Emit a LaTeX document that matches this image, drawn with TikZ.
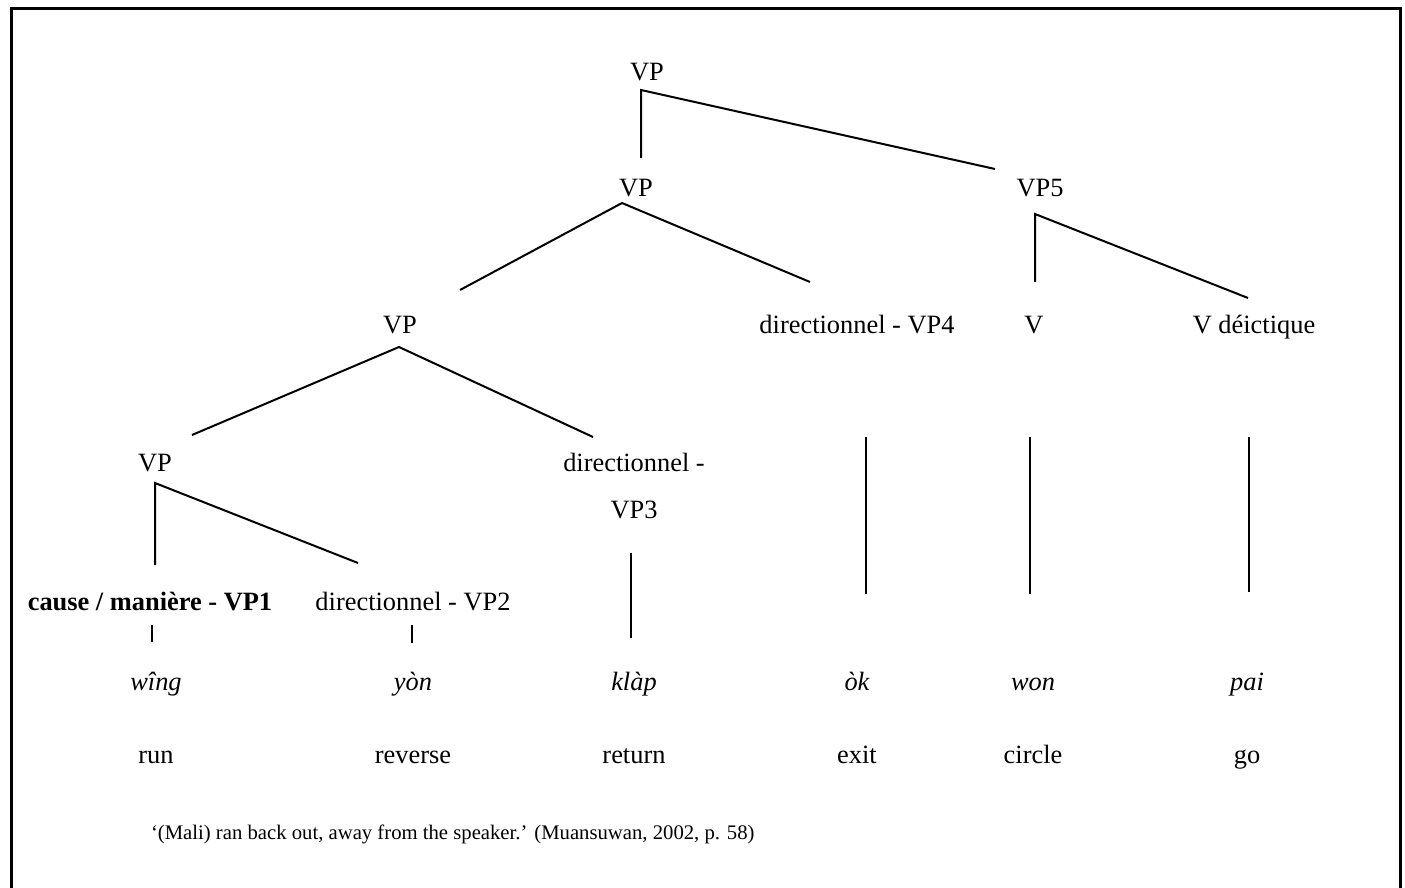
\documentclass[tikz,border=0pt]{standalone}
\usepackage{fontspec}
\setmainfont{Liberation Serif}

\tikzstyle{treefig}=[x=0.5pt,y=-0.5pt,line width=1pt]
\tikzstyle{lbl}=[anchor=base,inner sep=0pt,font=\fontsize{13.2}{15}\selectfont]
\tikzstyle{word}=[lbl,font=\fontsize{13.2}{15}\selectfont\itshape]
\tikzstyle{caption}=[anchor=base west,inner sep=0pt,font=\fontsize{10.35}{12}\selectfont]

\begin{document}
\begin{tikzpicture}[style=treefig]
\useasboundingbox (0,0) rectangle (1405,888);
\draw[line width=1.5pt] (11,9) rectangle (1400,900);

% tree labels
\node[lbl] (vp0) at (647,81) {VP};
\node[lbl] (vp1) at (636,197) {VP};
\node[lbl] (vp5) at (1040,197) {VP5};
\node[lbl] (vp2) at (400,334) {VP};
\node[lbl] (vp4) at (857,334) {directionnel - VP4};
\node[lbl] (v) at (1034,334) {V};
\node[lbl] (vd) at (1254,334) {V déictique};
\node[lbl] (vp) at (155,471) {VP};
\node[lbl] (vp3a) at (634,471) {directionnel -};
\node[lbl] (vp3b) at (634,518) {VP3};
\node[lbl,font=\fontsize{13.2}{15}\selectfont\bfseries] (vp1x) at (150,610) {cause / manière - VP1};
\node[lbl] (vp2x) at (413,610) {directionnel - VP2};

% thai words and glosses
\foreach \x/\w/\g [count=\i] in {156/wîng/run,413/yòn/reverse,634/klàp/return,857/òk/exit,1033/won/circle,1247/pai/go}{%
    \node[word] (w\i) at (\x,690) {\w};
    \node[lbl] (g\i) at (\x,763) {\g};
}

% branch points and line ends
\foreach \n/\x/\y in {a/641/90,a1/641/158,a2/995/169,%
    b/622/203,b1/460/290,b2/810/282,%
    c/1035/214,c1/1035/282,c2/1248/298,%
    d/399/347,d1/192/435,d2/593/437,%
    e/155/483,e1/155/565,e2/358/563,%
    f1/152/625,f2/152/642,g1/412/625,g2/412/643,%
    h1/631/553,h2/631/638,k1/866/437,k2/866/594,%
    m1/1030/437,m2/1030/594,n1/1249/437,n2/1249/592}{%
    \coordinate (\n) at (\x,\y);
}

\draw (a1) -- (a) -- (a2);
\draw (b1) -- (b) -- (b2);
\draw (c1) -- (c) -- (c2);
\draw (d1) -- (d) -- (d2);
\draw (e1) -- (e) -- (e2);
\foreach \s in {f,g,h,k,m,n}{% vertical strokes
    \draw (\s1) -- (\s2);
}

\node[caption] (cap) at (150,839) {‘(Mali) ran back out, away from the speaker.’ (Muansuwan, 2002, p. 58)};

\end{tikzpicture}
\end{document}
